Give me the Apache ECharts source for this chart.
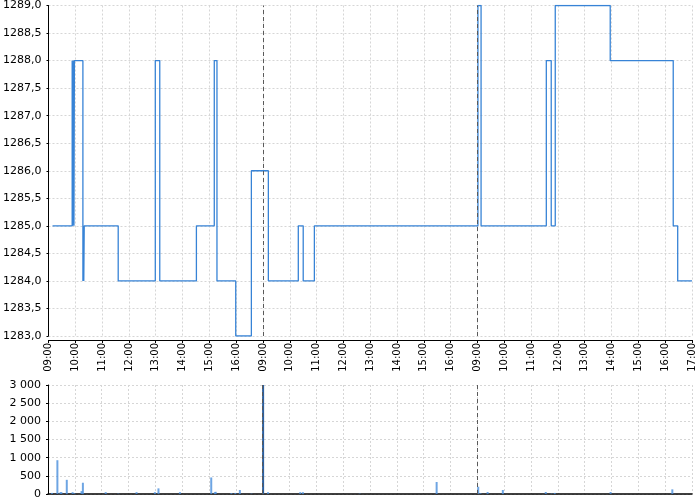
<!DOCTYPE html>
<html>
<head>
<meta charset="utf-8">
<script src="https://cdn.jsdelivr.net/npm/echarts@6/dist/echarts.min.js"></script>
<style>
html,body{margin:0;padding:0;background:#fff;}
#c{width:700px;height:500px;}
</style>
</head>
<body>
<div id="c"></div>
<script>
// Price changes: "day HH:MM" -> price held until next change
var priceTimes = ['1 09:09','1 09:53','1 09:54','1 09:56','1 09:57','1 09:58','1 10:17','1 10:18','1 10:19','1 10:20',
  '1 11:36','1 12:59','1 13:09','1 14:31','1 15:11','1 15:17','1 15:59','1 16:34',
  '2 09:12','2 10:19','2 10:30','2 10:55',
  '3 09:01','3 09:08','3 11:34','3 11:45','3 11:54','3 13:57','3 16:18','3 16:28','3 17:00'];
var priceValues = [1285,1288,1285,1288,1285,1288,1284,1285,1284,1285,
  1284,1288,1284,1285,1288,1284,1283,1286,
  1284,1285,1284,1285,
  1289,1285,1288,1285,1289,1288,1285,1284,1284];

var volumeTimes = ['1 09:09','1 09:21','1 09:28','1 09:30','1 09:42','1 09:55','1 09:59','1 10:15','1 10:18','1 11:09',
  '1 11:37','1 12:18','1 12:59','1 13:07','1 13:55','1 15:05','1 15:13','1 15:15','1 15:50','1 15:59','1 16:09','1 16:35',
  '2 09:01','2 09:12','2 10:24','2 10:30','2 12:37','2 15:29',
  '3 09:02','3 09:07','3 09:23','3 09:57','3 11:33','3 11:46','3 11:53','3 13:58','3 16:16'];
var volumeValues = [30,930,50,50,390,50,20,80,310,50,
  10,50,50,155,50,455,50,60,25,30,110,10,
  3200,50,50,50,10,330,
  200,20,55,110,55,10,30,55,128];

var hourLabels = ['09:00','10:00','11:00','12:00','13:00','14:00','15:00','16:00','17:00'];
var dayBreaks = [8, 16];

function toH(s){
  var d = parseInt(s.split(' ')[0],10);
  var t = s.split(' ')[1].split(':');
  return (d-1)*8 + (parseInt(t[0],10)-9) + parseInt(t[1],10)/60;
}
var priceData = priceTimes.map(function(t,i){return [toH(t), priceValues[i]];});
var volData = volumeTimes.map(function(t,i){
  var o = {value:[toH(t), volumeValues[i]]};
  if (volumeValues[i] >= 3000) o.itemStyle = {color:'#2c5f9e', opacity:1};
  return o;
});

function xLabel(v){
  if (v >= 24) return hourLabels[8];
  return hourLabels[Math.round(v) % 8];
}
function fmtPrice(v){ return v.toFixed(1).replace('.', ','); }
function fmtVol(v){ return String(v).replace(/\B(?=(\d{3})+(?!\d))/g, ' '); }

var FONT = 'DejaVu Sans';
var gridLine = {show:true, lineStyle:{color:'#d6d6d6', type:[2,2], width:1}};
var markLine = {
  silent:true, symbol:'none', label:{show:false},
  lineStyle:{color:'#5a5a5a', type:[4,3], width:1},
  data: dayBreaks.map(function(b){return {xAxis:b};})
};

var chart = echarts.init(document.getElementById('c'), null, {renderer:'canvas'});
chart.setOption({
  animation:false,
  backgroundColor:'#ffffff',
  grid:[
    {left:48, right:8, top:5, height:331},
    {left:48, right:8, top:385, height:109}
  ],
  xAxis:[
    {type:'value', gridIndex:0, min:0, max:24, interval:1, offset:4,
      axisLine:{show:true, lineStyle:{color:'#000', width:1}},
      axisTick:{show:true, length:3, lineStyle:{color:'#000'}},
      axisLabel:{rotate:90, margin:3, fontFamily:FONT, fontSize:10, color:'#000', formatter:xLabel, showMinLabel:true, showMaxLabel:true},
      splitLine:gridLine},
    {type:'value', gridIndex:1, min:0, max:24, interval:1,
      axisLine:{show:true, onZero:false, lineStyle:{color:'#000', width:1.5}},
      axisTick:{show:false}, axisLabel:{show:false},
      splitLine:gridLine}
  ],
  yAxis:[
    {type:'value', gridIndex:0, min:1283, max:1289, interval:0.5, offset:4,
      axisLine:{show:true, lineStyle:{color:'#000', width:1}},
      axisTick:{show:true, length:2, lineStyle:{color:'#000'}},
      axisLabel:{margin:3, fontFamily:FONT, fontSize:11, color:'#000', formatter:fmtPrice},
      splitLine:gridLine},
    {type:'value', gridIndex:1, min:0, max:3000, interval:500, offset:4,
      axisLine:{show:true, lineStyle:{color:'#000', width:1}},
      axisTick:{show:true, length:2, lineStyle:{color:'#000'}},
      axisLabel:{margin:3, fontFamily:FONT, fontSize:11, color:'#000', formatter:fmtVol},
      splitLine:gridLine}
  ],
  series:[
    {type:'line', xAxisIndex:0, yAxisIndex:0, data:priceData, step:'end', showSymbol:false,
      lineStyle:{color:'#3783d6', width:1.3}, itemStyle:{color:'#3783d6'}, markLine:markLine},
    {type:'bar', xAxisIndex:1, yAxisIndex:1, data:volData, barWidth:2,
      itemStyle:{color:'#4a8fdc', opacity:0.8}, markLine:markLine}
  ]
});
</script>
</body>
</html>
